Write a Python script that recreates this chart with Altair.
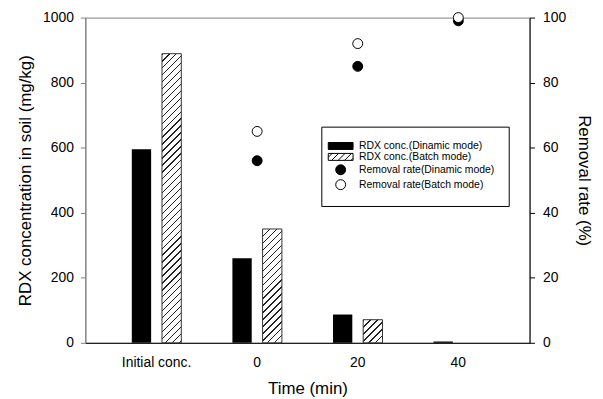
import altair as alt
import pandas as pd

# ---------------- data ----------------
categories = ["Initial conc.", "0", "20", "40"]
conc_dynamic = [595, 260, 87, 4]        # RDX conc. (Dinamic mode), mg/kg
conc_batch = [889, 350, 71, 0]          # RDX conc. (Batch mode), mg/kg
rate_cats = ["0", "20", "40"]
rate_dynamic = [56, 85, 99]             # Removal rate (Dinamic mode), %
rate_batch = [65, 92, 100]              # Removal rate (Batch mode), %

S_BAR_DYN = "RDX conc.(Dinamic mode)"
S_BAR_BAT = "RDX conc.(Batch mode)"
S_RATE_DYN = "Removal rate(Dinamic mode)"
S_RATE_BAT = "Removal rate(Batch mode)"
series_order = [S_BAR_DYN, S_BAR_BAT, S_RATE_DYN, S_RATE_BAT]

bars = pd.DataFrame(
    [{"cat": c, "series": S_BAR_DYN, "value": v} for c, v in zip(categories, conc_dynamic)]
    + [{"cat": c, "series": S_BAR_BAT, "value": v} for c, v in zip(categories, conc_batch)]
)
rates = pd.DataFrame(
    [{"cat": c, "series": S_RATE_DYN, "value": v} for c, v in zip(rate_cats, rate_dynamic)]
    + [{"cat": c, "series": S_RATE_BAT, "value": v} for c, v in zip(rate_cats, rate_batch)]
)

# ---------------- layout / style ----------------
W, H = 448, 328
FONT = "Liberation Sans"
X_PAD_IN, X_PAD_OUT = 0.508, 0.462
OFF_PAD_IN = 0.36
Y_MAX = 1000

x_step = W / (len(categories) - X_PAD_IN + 2 * X_PAD_OUT)
x_band = x_step * (1 - X_PAD_IN)
off_step = x_band / (2 - OFF_PAD_IN)
bar_w = off_step * (1 - OFF_PAD_IN)


def hatch_gradient(value, period=7.0, frac=0.2, dark="#222222", light="white"):
    """Diagonal '/' stripes as a linear gradient in bounding-box units."""
    bw = bar_w
    bh = max(value / Y_MAX * H, 0.5)
    c = (bw + bh) / (bw * bw + bh * bh)
    dt = period / (bw + bh)
    stops = []
    t = 0.0
    while t < 1.0:
        a = min(t, 1.0)
        b = min(t + frac * dt, 1.0)
        e = min(t + dt, 1.0)
        stops += [
            alt.GradientStop(offset=a, color=dark),
            alt.GradientStop(offset=b, color=dark),
            alt.GradientStop(offset=b, color=light),
            alt.GradientStop(offset=e, color=light),
        ]
        t += dt
    return alt.LinearGradient(gradient="linear", x1=0, y1=0, x2=c * bw, y2=c * bh, stops=stops)


def hatch_symbol(hw=2.5, hh=0.7, step=1.3):
    path = f"M{-hw},{-hh}H{hw}V{hh}H{-hw}Z"
    x0 = -hw - 2 * hh + step * 0.6
    while x0 < hw:
        xa, ya = x0, hh
        xb, yb = x0 + 2 * hh, -hh
        if xa < -hw:
            ya = hh - (-hw - xa)
            xa = -hw
        if xb > hw:
            yb = -hh + (xb - hw)
            xb = hw
        if xb > xa:
            path += f"M{xa:.3f},{ya:.3f}L{xb:.3f},{yb:.3f}"
        x0 += step
    return path


rect_symbol = "M-2.5,-0.7H2.5V0.7H-2.5Z"

x_enc = alt.X(
    "cat:N",
    scale=alt.Scale(domain=categories, paddingInner=X_PAD_IN, paddingOuter=X_PAD_OUT),
    axis=alt.Axis(
        title="Time (min)", labelAngle=0, ticks=False, tickSize=0, labelPadding=13,
        domainColor="black", titlePadding=11,
    ),
)
xoff_enc = alt.XOffset(
    "series:N",
    scale=alt.Scale(domain=[S_BAR_DYN, S_BAR_BAT], paddingInner=OFF_PAD_IN, paddingOuter=0),
)
y_enc = alt.Y(
    "value:Q",
    scale=alt.Scale(domain=[0, Y_MAX], nice=False),
    axis=alt.Axis(
        title="RDX concentration in soil (mg/kg)", values=list(range(0, 1001, 200)),
        format="d", grid=False, tickSize=5, labelPadding=7, titlePadding=8,
        domainColor="#808080", tickColor="#808080",
    ),
)

base_bars = alt.Chart(bars).encode(x=x_enc, xOffset=xoff_enc, y=y_enc)

layers = [
    base_bars.transform_filter(alt.datum.series == S_BAR_DYN).mark_bar(color="black"),
]
for c, v in zip(categories, conc_batch):
    layers.append(
        base_bars.transform_filter(
            (alt.datum.series == S_BAR_BAT) & (alt.datum.cat == c) & (alt.datum.value > 0)
        ).mark_bar(fill=hatch_gradient(v), stroke="#333333", strokeWidth=1)
    )
bar_layer = alt.layer(*layers)

legend = alt.Legend(
    title=None, orient="none", legendX=238, legendY=110, padding=14,
    strokeColor="black", fillColor="white", cornerRadius=0,
    labelFont=FONT, labelFontSize=10.5, labelColor="black", labelOffset=13,
    symbolSize=100, symbolStrokeColor="black", symbolStrokeWidth=1,
    rowPadding=0, symbolOpacity=1,
)

points = alt.Chart(rates).mark_point(
    filled=True, strokeWidth=1, size=100, opacity=1
).encode(
    x=alt.X("cat:N", scale=alt.Scale(domain=categories)),
    y=alt.Y(
        "value:Q",
        scale=alt.Scale(domain=[0, 100], nice=False),
        axis=alt.Axis(
            title="Removal rate (%)", orient="right", values=list(range(0, 101, 20)),
            grid=False, tickSize=5, labelPadding=8, titlePadding=9,
            domainColor="black", tickColor="black",
        ),
    ),
    shape=alt.Shape(
        "series:N",
        scale=alt.Scale(domain=series_order, range=[rect_symbol, hatch_symbol(), "circle", "circle"]),
        legend=legend,
    ),
    fill=alt.Fill(
        "series:N",
        scale=alt.Scale(domain=series_order, range=["black", "white", "black", "white"]),
        legend=legend,
    ),
    stroke=alt.Stroke(
        "series:N",
        scale=alt.Scale(domain=series_order, range=["black", "black", "black", "black"]),
        legend=legend,
    ),
)

chart = (
    alt.layer(bar_layer, points)
    .resolve_scale(y="independent")
    .properties(
        width=W, height=H,
        background="white",
        autosize=alt.AutoSizeParams(type="none"),
        padding={"left": 78, "top": 8, "right": 66, "bottom": 54},
    )
    .configure_view(stroke="#808080", strokeWidth=1)
    .configure_axis(
        labelFont=FONT, labelFontSize=14, labelColor="black",
        titleFont=FONT, titleFontSize=17, titleFontWeight="normal", titleColor="black",
    )
)

chart.save("out.html", embed_options={"renderer": "svg", "actions": False})
